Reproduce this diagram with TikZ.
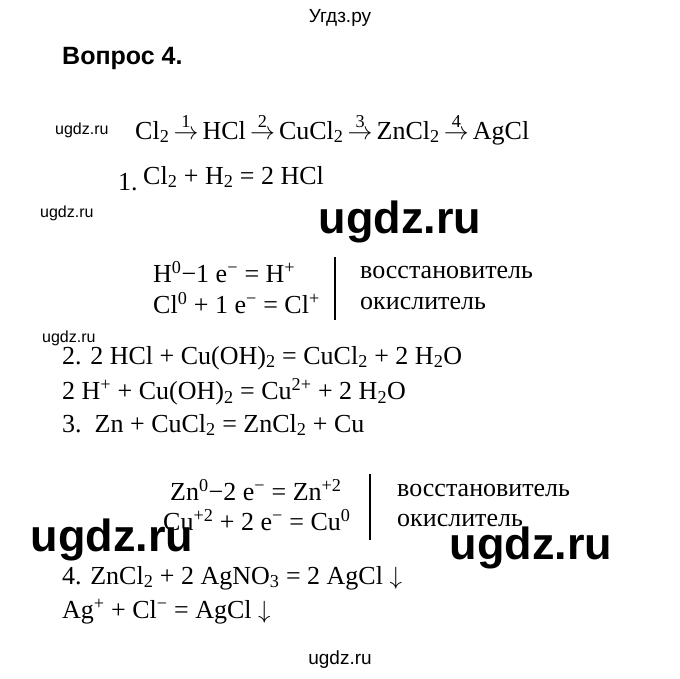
\documentclass[tikz,border=0pt]{standalone}
\usepackage{fontspec}
\setmainfont{Liberation Serif}
\newfontfamily\wmfont{Liberation Sans}
\usetikzlibrary{positioning}
\newcommand{\sbs}[1]{\textsubscript{#1}}
\newcommand{\sps}[1]{\textsuperscript{#1}}
\newcommand{\chstep}[1]{$\,\stackrel{\mathrm{#1}}{\rightarrow}\,$}
\begin{document}
\begin{tikzpicture}[x=1pt,y=-1pt,
    txt/.style={anchor=west, inner sep=0pt, font=\fontsize{26}{30}\selectfont},
    wm/.style={inner sep=0pt, font=\wmfont\fontsize{16}{18}\selectfont},
    bigwm/.style={inner sep=0pt, font=\wmfont\bfseries\fontsize{45}{50}\selectfont}]
  \useasboundingbox (0,0) rectangle (680,678);
  \node [wm, font=\wmfont\fontsize{19}{22}\selectfont] (top) at (340,18) {Угдз.ру};
  \node [txt, font=\wmfont\bfseries\fontsize{25}{28}\selectfont] (q) at (62,58) {Вопрос 4.};
  \node [wm, anchor=west] (w1) at (55,130) {ugdz.ru};
  \node [txt, anchor=base west] (chain) at (135,139) {Cl\sbs{2}\chstep{1}HCl\chstep{2}CuCl\sbs{2}\chstep{3}ZnCl\sbs{2}\chstep{4}AgCl};
  \node [txt] (n1) at (118,182) {1.};
  \node [txt] (r1) at (143,177) {Cl\sbs{2} + H\sbs{2} = 2 HCl};
  \node [wm, anchor=west] (w2) at (40,213) {ugdz.ru};
  \node [bigwm] (big1) at (400,222) {ugdz.ru};
  \node [txt] (e1) at (153,272) {H\sps{0}−1 e\sps{−} = H\sps{+}};
  \node [txt] (e2) at (153,303) {Cl\sps{0} + 1 e\sps{−} = Cl\sps{+}};
  \draw [line width=1.2pt] (335,257) -- (335,320);
  \node [txt] (v1) at (360,272) {восстановитель};
  \node [txt] (o1) at (360,303) {окислитель};
  \node [wm, anchor=west] (w3) at (42,338) {ugdz.ru};
  \node [txt] (r2) at (62,358) {2. 2 HCl + Cu(OH)\sbs{2} = CuCl\sbs{2} + 2 H\sbs{2}O};
  \node [txt] (r2i) at (62,392) {2 H\sps{+} + Cu(OH)\sbs{2} = Cu\sps{2+} + 2 H\sbs{2}O};
  \node [txt] (r3) at (62,425) {3.\ \ Zn + CuCl\sbs{2} = ZnCl\sbs{2} + Cu};
  \node [txt] (e3) at (170,490) {Zn\sps{0}−2 e\sps{−} = Zn\sps{+2}};
  \node [txt] (e4) at (163,520) {Cu\sps{+2} + 2 e\sps{−} = Cu\sps{0}};
  \draw [line width=1.2pt] (370,474) -- (370,540);
  \node [txt] (v2) at (397,490) {восстановитель};
  \node [txt] (o2) at (397,520) {окислитель};
  \node [bigwm] (big2) at (112,540) {ugdz.ru};
  \node [bigwm] (big3) at (531,548) {ugdz.ru};
  \node [txt] (r4) at (62,578) {4. ZnCl\sbs{2} + 2 AgNO\sbs{3} = 2 AgCl $\downarrow$};
  \node [txt] (r4i) at (62,612) {Ag\sps{+} + Cl\sps{−} = AgCl $\downarrow$};
  \node [wm, font=\wmfont\fontsize{19}{22}\selectfont] (bot) at (340,660) {ugdz.ru};
\end{tikzpicture}
\end{document}
